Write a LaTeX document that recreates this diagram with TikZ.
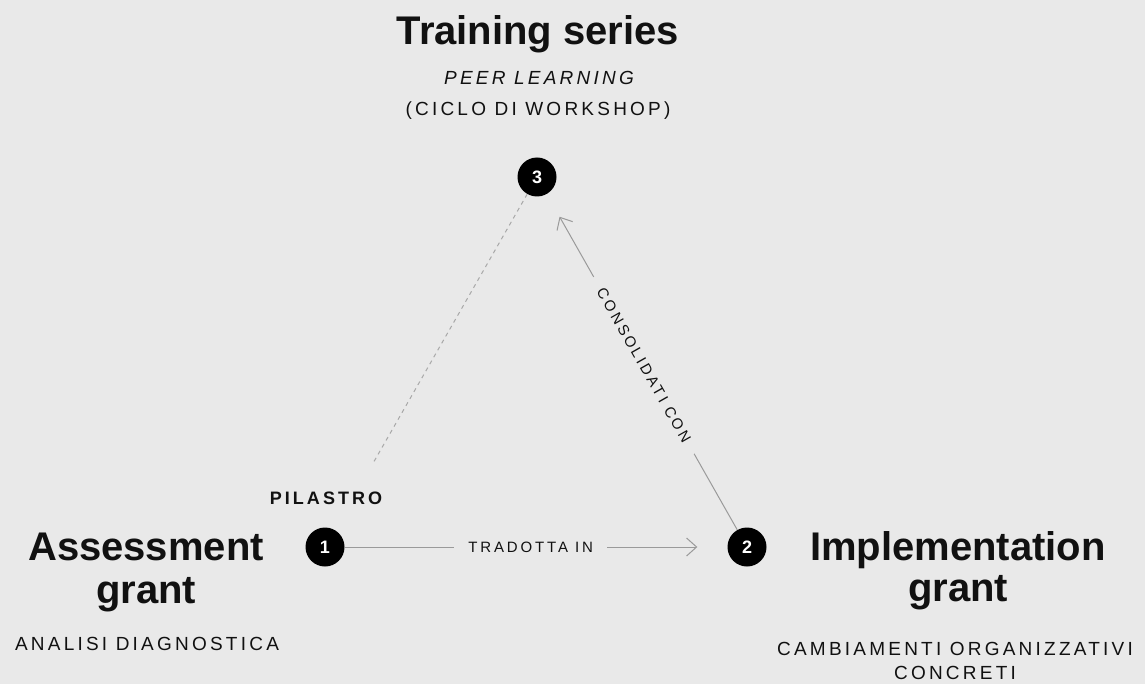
\documentclass[tikz,border=0pt]{standalone}
\usepackage{fontspec}
\setmainfont{Liberation Sans}
\newfontfamily\spaced[LetterSpace=17]{Liberation Sans}
\newfontfamily\spacedlabel[LetterSpace=19]{Liberation Sans}
\usetikzlibrary{arrows.meta}
\definecolor{bg}{HTML}{E9E9E9}
\definecolor{linegray}{HTML}{9A9A9A}
\definecolor{dashgray}{HTML}{A8A8A8}
\definecolor{ink}{HTML}{111111}
\tikzset{
  title/.style={anchor=base, inner sep=0, text=ink, font=\bfseries\fontsize{40}{44}\selectfont},
  sub/.style={anchor=base, inner sep=0, text=ink, font=\spaced\fontsize{19}{21}\selectfont},
  pil/.style={anchor=base, inner sep=0, text=ink, font=\spaced\bfseries\fontsize{18}{20}\selectfont},
  num/.style={circle, fill=black, minimum size=39pt, inner sep=0, text=white, font=\bfseries\fontsize{18}{18}\selectfont},
  conn/.style={draw=linegray, line width=1pt, -{Straight Barb[length=10pt, width=18pt, line width=1pt]}},
  dashline/.style={draw=dashgray, line width=1pt, dash pattern=on 4pt off 4pt},
  edgelabel/.style={fill=bg, inner xsep=14pt, inner ysep=2pt, text=ink, font=\spacedlabel\fontsize{15}{17}\selectfont},
}
\begin{document}
\begin{tikzpicture}[x=1pt, y=-1pt]
\useasboundingbox[fill=bg] (0,0) rectangle (1145,684);

% pillars
\node[num] (n1) at (325,547) {1};
\node[num] (n2) at (747,547) {2};
\node[num] (n3) at (537,177) {3};

% training series texts
\node[title] (t3) at (538,45) {Training series};
\node[sub] (t3a) at (539,85) {\itshape PEER LEARNING};
\node[sub] (t3b) at (538,116) {(CICLO DI WORKSHOP)};

% assessment texts
\node[pil] (pil) at (326,504) {PILASTRO};
\node[title] (t1) at (146,560) {Assessment};
\node[title] (t1b) at (146,603) {grant};
\node[sub] (t1c) at (147,650) {ANALISI DIAGNOSTICA};

% implementation texts
\node[title] (t2) at (958,560) {Implementation};
\node[title] (t2b) at (958,601) {grant};
\node[sub] (t2c) at (955,655) {CAMBIAMENTI ORGANIZZATIVI};
\node[sub] (t2d) at (955,679) {CONCRETI};

% connectors
\draw[dashline, shorten >=78pt] (n3) -- (n1);
\draw[conn, shorten >=30pt] (n1) -- (n2)
  node[edgelabel, pos=0.486] {TRADOTTA IN};
\draw[conn, shorten >=26pt] (n2) -- (n3)
  node[edgelabel, pos=0.49, sloped] {CONSOLIDATI CON};
\end{tikzpicture}
\end{document}
